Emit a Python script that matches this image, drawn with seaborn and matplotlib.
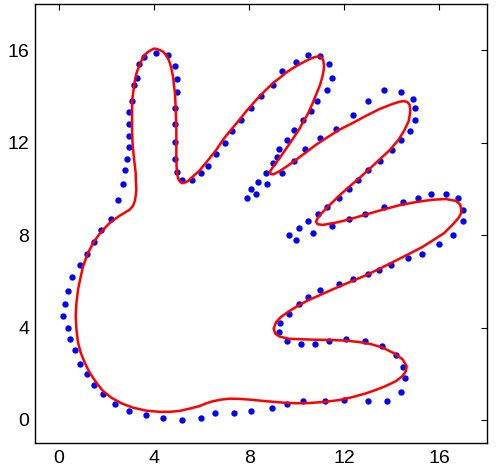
import numpy as np
import pandas as pd
import matplotlib
matplotlib.use("Agg")
import matplotlib.pyplot as plt
import seaborn as sns

# Sampled outline points of the hand (blue markers)
pts_x = [5.17, 4.38, 3.68, 2.97, 2.38, 1.87, 1.48, 1.19, 0.88, 0.67, 0.48, 0.38, 0.17, 0.28, 0.38,
         0.57, 0.88, 1.19, 1.48, 1.79, 2.18, 2.49, 2.69, 2.78, 2.88, 2.95, 2.95, 2.95, 2.97, 3.08,
         3.17, 3.29, 3.37, 3.58, 4.07, 4.59, 4.88, 4.98, 4.98, 4.88, 4.88, 4.87, 4.87, 4.98, 5.19,
         5.58, 5.99, 6.29, 6.59, 6.99, 7.29, 7.66, 8.08, 8.48, 8.99, 9.38, 9.97, 10.48, 10.97, 11.37,
         11.47, 11.27, 10.87, 10.59, 10.28, 9.89, 9.59, 9.27, 9.16, 8.99, 8.69, 8.38, 8.08, 7.89, 8.29,
         8.77, 9.40, 9.87, 10.36, 10.98, 11.65, 12.38, 12.98, 13.68, 14.39, 14.87, 14.97, 14.98, 14.78, 14.39,
         13.99, 13.48, 12.99, 12.59, 12.18, 11.79, 11.27, 10.88, 10.49, 10.10, 9.68, 9.97, 10.67, 11.47, 12.18,
         12.88, 13.68, 14.48, 15.08, 15.66, 16.27, 16.78, 16.97, 16.97, 16.57, 15.97, 15.27, 14.67, 13.97, 13.47,
         12.98, 12.38, 11.78, 10.97, 10.48, 10.08, 9.66, 9.29, 9.27, 9.58, 10.18, 10.78, 11.37, 12.07, 12.87,
         13.57, 14.17, 14.46, 14.57, 14.38, 13.78, 12.98, 11.97, 11.17, 10.28, 9.58, 8.98, 8.08, 7.37, 6.57,
         5.99]
pts_y = [0.00, 0.10, 0.20, 0.40, 0.71, 1.11, 1.51, 2.00, 2.40, 3.01, 3.51, 4.00, 4.49, 5.00, 5.60,
         6.19, 6.71, 7.20, 7.69, 8.21, 8.70, 9.50, 10.21, 10.82, 11.30, 11.81, 12.30, 12.82, 13.31, 13.81,
         14.50, 14.79, 15.42, 15.71, 15.90, 15.80, 15.32, 14.76, 14.20, 13.49, 12.82, 12.01, 11.30, 10.71, 10.40,
         10.40, 10.70, 11.00, 11.51, 12.00, 12.51, 12.99, 13.49, 14.00, 14.50, 15.11, 15.50, 15.80, 15.73, 15.41,
         14.79, 14.30, 13.81, 13.39, 12.99, 12.53, 12.11, 11.71, 11.39, 11.10, 10.70, 10.30, 10.01, 9.62, 9.79,
         10.21, 10.70, 11.22, 11.71, 12.21, 12.60, 13.21, 13.80, 14.30, 14.20, 13.90, 13.49, 12.99, 12.50, 12.10,
         11.69, 11.22, 10.80, 10.40, 9.99, 9.61, 9.20, 8.91, 8.60, 8.31, 8.01, 7.79, 8.11, 8.38, 8.70,
         8.91, 9.22, 9.42, 9.62, 9.79, 9.79, 9.61, 9.10, 8.60, 8.02, 7.60, 7.20, 7.00, 6.70, 6.51,
         6.31, 6.11, 5.90, 5.62, 5.31, 5.01, 4.59, 4.21, 3.82, 3.40, 3.30, 3.30, 3.40, 3.51, 3.41,
         3.20, 2.79, 2.29, 1.80, 1.21, 0.82, 0.82, 0.86, 0.82, 0.82, 0.71, 0.50, 0.40, 0.30, 0.30,
         0.10]

# Smooth fitted contour (red closed curve)
fit_x = [5.92, 5.50, 5.08, 4.66, 4.24, 3.68, 3.12, 2.63, 2.21, 1.86, 1.58, 1.30, 1.09, 0.92, 0.81,
         0.74, 0.71, 0.74, 0.81, 0.91, 1.02, 1.20, 1.44, 1.76, 2.14, 2.56, 2.98, 3.12, 3.19, 3.23,
         3.26, 3.24, 3.23, 3.19, 3.15, 3.10, 3.08, 3.08, 3.08, 3.13, 3.19, 3.27, 3.40, 3.50, 3.61,
         3.75, 3.89, 3.99, 4.10, 4.24, 4.38, 4.49, 4.59, 4.67, 4.73, 4.80, 4.84, 4.88, 4.90, 4.92,
         4.94, 4.94, 4.94, 4.95, 4.97, 5.01, 5.08, 5.17, 5.29, 5.43, 5.64, 5.92, 6.20, 6.62, 6.92,
         7.24, 7.57, 7.87, 8.15, 8.43, 8.71, 8.99, 9.27, 9.55, 9.83, 10.11, 10.39, 10.60, 10.74, 10.88,
         10.98, 11.06, 11.12, 11.15, 11.12, 11.08, 10.98, 10.81, 10.64, 10.46, 10.28, 10.11, 9.86, 9.62, 9.38,
         9.13, 8.97, 8.88, 8.91, 9.02, 9.27, 9.62, 9.97, 10.39, 10.81, 11.30, 11.79, 12.35, 12.91, 13.47,
         13.96, 14.31, 14.52, 14.66, 14.74, 14.77, 14.76, 14.70, 14.52, 14.28, 13.92, 13.47, 13.02, 12.60, 12.18,
         11.76, 11.37, 11.06, 10.88, 10.81, 10.88, 11.09, 11.65, 12.21, 12.91, 13.61, 14.31, 15.01, 15.71, 16.27,
         16.69, 16.87, 16.92, 16.90, 16.80, 16.55, 16.20, 15.78, 15.29, 14.73, 14.17, 13.61, 12.91, 12.21, 11.51,
         10.95, 10.46, 10.04, 9.66, 9.34, 9.13, 9.03, 9.10, 9.30, 9.69, 10.25, 10.81, 11.51, 12.07, 12.63,
         13.12, 13.61, 14.10, 14.45, 14.62, 14.59, 14.45, 14.17, 13.75, 13.33, 12.91, 12.35, 11.79, 11.16, 10.53,
         9.97, 9.41, 8.71, 8.01, 7.59, 7.17, 6.83, 6.48, 6.20]
fit_y = [0.60, 0.49, 0.39, 0.35, 0.35, 0.40, 0.53, 0.72, 0.96, 1.25, 1.61, 2.04, 2.48, 2.91, 3.34,
         3.92, 4.49, 5.07, 5.65, 6.15, 6.65, 7.16, 7.66, 8.12, 8.53, 8.84, 9.10, 9.27, 9.46, 9.68,
         9.97, 10.33, 10.69, 11.05, 11.41, 11.98, 12.56, 13.06, 13.78, 14.21, 14.65, 15.03, 15.37, 15.61, 15.80,
         15.93, 16.01, 16.07, 16.06, 16.01, 15.94, 15.81, 15.65, 15.44, 15.22, 14.86, 14.50, 14.14, 13.78, 13.28,
         12.56, 11.98, 11.41, 10.97, 10.69, 10.47, 10.33, 10.25, 10.27, 10.34, 10.54, 10.80, 11.15, 11.69, 12.15,
         12.56, 12.96, 13.35, 13.68, 14.00, 14.29, 14.57, 14.79, 15.03, 15.22, 15.39, 15.54, 15.64, 15.70, 15.73,
         15.73, 15.67, 15.54, 15.29, 15.08, 14.86, 14.50, 14.07, 13.64, 13.23, 12.92, 12.59, 12.20, 11.84, 11.48,
         11.12, 10.90, 10.76, 10.64, 10.63, 10.76, 11.00, 11.26, 11.58, 11.91, 12.24, 12.56, 12.85, 13.16, 13.45,
         13.65, 13.77, 13.80, 13.75, 13.64, 13.45, 13.25, 12.92, 12.53, 12.13, 11.69, 11.26, 10.83, 10.44, 10.07,
         9.68, 9.29, 8.96, 8.74, 8.58, 8.47, 8.44, 8.54, 8.68, 8.89, 9.10, 9.29, 9.43, 9.53, 9.56,
         9.48, 9.32, 9.10, 8.93, 8.74, 8.45, 8.09, 7.81, 7.49, 7.19, 6.90, 6.61, 6.26, 5.96, 5.65,
         5.39, 5.17, 4.93, 4.69, 4.46, 4.23, 3.95, 3.73, 3.60, 3.51, 3.49, 3.47, 3.46, 3.43, 3.37,
         3.28, 3.13, 2.88, 2.62, 2.33, 2.12, 1.90, 1.68, 1.47, 1.30, 1.15, 0.99, 0.86, 0.78, 0.73,
         0.72, 0.75, 0.81, 0.88, 0.91, 0.92, 0.88, 0.81, 0.72]

tick_vals = [0, 4, 8, 12, 16]

sns.set_theme(style="white")
plt.rcParams["font.family"] = ["Liberation Sans", "DejaVu Sans"]

points = pd.DataFrame({"x": pts_x, "y": pts_y})
# close the fitted contour by repeating its first vertex
curve = pd.DataFrame({"x": fit_x + fit_x[:1], "y": fit_y + fit_y[:1]})

fig = plt.figure(figsize=(4.96, 4.70), dpi=100)
ax = fig.add_axes([0.0706, 0.0574, 0.9114, 0.934])

sns.scatterplot(data=points, x="x", y="y", ax=ax, color="#0000ff",
                s=21, linewidth=0, zorder=2)
sns.lineplot(data=curve, x="x", y="y", ax=ax, sort=False, estimator=None,
             color="#ff0000", linewidth=1.8, zorder=3)

ax.set_xlim(-1, 18)
ax.set_ylim(-1, 18)
ax.set_xticks(tick_vals)
ax.set_yticks(tick_vals)
ax.set_xlabel("")
ax.set_ylabel("")
for sp in ax.spines.values():
    sp.set_visible(True)
    sp.set_color("black")
    sp.set_linewidth(1.0)
ax.tick_params(direction="in", top=True, right=True, length=4, width=0.8,
               colors="black", labelsize=14)
ax.tick_params(axis="x", pad=5)
ax.tick_params(axis="y", pad=4)

fig.savefig("out.png", dpi=100, facecolor="white")
